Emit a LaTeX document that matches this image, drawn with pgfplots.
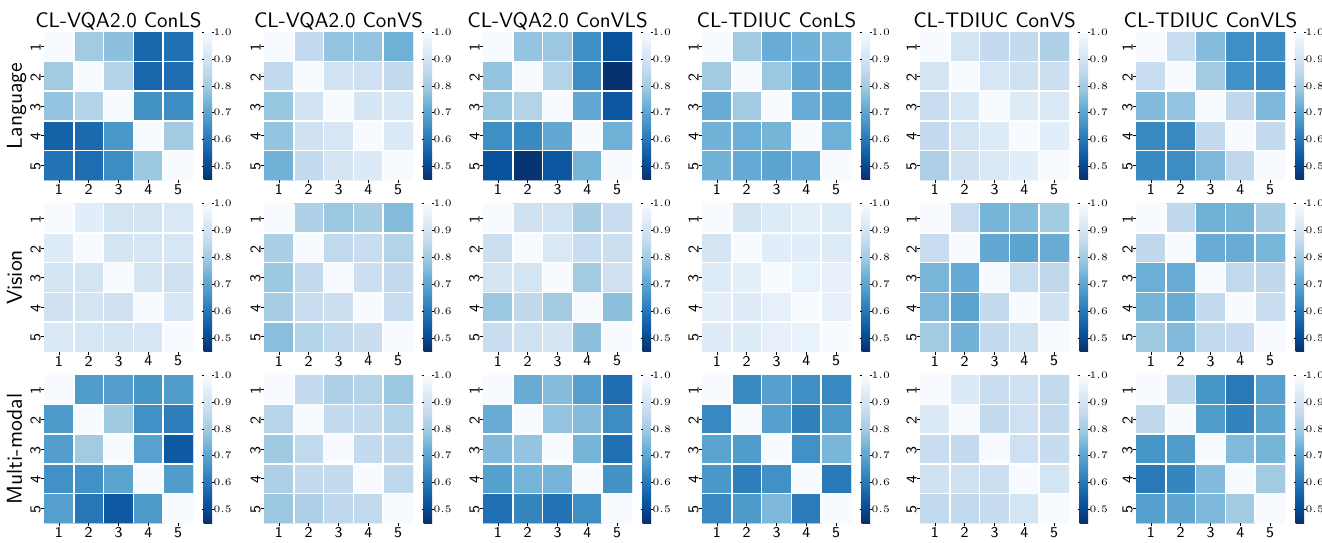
\documentclass[border=0pt]{standalone}
\usepackage{pgfplots}
\pgfplotsset{compat=1.18}
\pgfplotsset{
  every axis title shift=0pt,
  colormap={sbblues}{rgb255=(8,48,107) rgb255=(8,81,156) rgb255=(33,113,181) rgb255=(66,146,198) rgb255=(107,174,214) rgb255=(158,202,225) rgb255=(198,219,239) rgb255=(222,235,247) rgb255=(247,251,255)},
  hmstyle/.style={
    scale only axis, width=74.5pt, height=74pt, anchor=north west,
    xmin=0.5, xmax=5.5, ymin=0.5, ymax=5.5, y dir=reverse, enlargelimits=false,
    xtick={1,2,3,4,5}, ytick={1,2,3,4,5},
    xticklabels={1,2,3,4,5}, yticklabels={1,2,3,4,5},
    tick pos=left, tick align=outside, major tick length=1.5pt,
    tick style={black, line width=0.4pt},
    minor xtick={1.5,2.5,3.5,4.5}, minor ytick={1.5,2.5,3.5,4.5}, minor tick length=0pt,
    xminorgrids, yminorgrids, minor grid style={white, line width=0.75pt},
    axis on top, axis line style={draw=none},
    colormap name=sbblues, point meta min=0.45, point meta max=1,
    colorbar,
    colorbar shift/.style={xshift=0pt},
    colorbar style={
      at={(parent axis.north east)}, anchor=north west, xshift=5.3pt,
      width=4.2pt,
      ytick={0.5,0.6,0.7,0.8,0.9,1.0},
      yticklabel style={font=\fontsize{3.3}{4}\selectfont, inner sep=0.3pt, xshift=-0.7pt,
        /pgf/number format/.cd, fixed, fixed zerofill, precision=1},
      major tick length=1pt,
      tick style={black, line width=0.3pt},
      tick align=outside,
      axis line style={draw=none},
    },
    xticklabel style={font=\sffamily\fontsize{7.5}{8}\selectfont, inner sep=0pt, anchor=north, yshift=-0.6pt},
    yticklabel style={font=\sffamily\fontsize{7.5}{8}\selectfont, rotate=90, inner sep=0pt, anchor=south, xshift=-0.6pt},
    title style={font=\sffamily\fontsize{10.5}{12}\selectfont, at={(0.5,1)}, anchor=base, yshift=2.5pt, inner sep=0pt},
    ylabel style={font=\sffamily\fontsize{10.8}{12}\selectfont, at={(axis description cs:-0.148,0.5)}, anchor=base, inner sep=0pt},
  }
}
\newcommand{\hm}[4]{%
\begin{axis}[hmstyle, at={(#1pt,#2pt)}, #3]
\addplot[matrix plot*, mesh/cols=5, point meta=explicit] coordinates {#4};
\end{axis}}
\begin{document}
\begin{tikzpicture}
\useasboundingbox (0,0) rectangle (661pt,-271pt);
% ---------------- Row 1: Language ----------------
\hm{22}{-16}{title={CL-VQA2.0 ConLS}, ylabel={Language}}{
(1,1)[1.00] (2,1)[0.80] (3,1)[0.77] (4,1)[0.565] (5,1)[0.585]
(1,2)[0.80] (2,2)[1.00] (3,2)[0.83] (4,2)[0.565] (5,2)[0.58]
(1,3)[0.78] (2,3)[0.83] (3,3)[1.00] (4,3)[0.66] (5,3)[0.645]
(1,4)[0.555] (2,4)[0.57] (3,4)[0.67] (4,4)[1.00] (5,4)[0.80]
(1,5)[0.59] (2,5)[0.58] (3,5)[0.645] (4,5)[0.79] (5,5)[1.00]}
\hm{132}{-16}{title={CL-VQA2.0 ConVS}}{
(1,1)[1.00] (2,1)[0.86] (3,1)[0.78] (4,1)[0.78] (5,1)[0.73]
(1,2)[0.86] (2,2)[1.00] (3,2)[0.895] (4,2)[0.885] (5,2)[0.855]
(1,3)[0.785] (2,3)[0.895] (3,3)[1.00] (4,3)[0.905] (5,3)[0.91]
(1,4)[0.78] (2,4)[0.89] (3,4)[0.91] (4,4)[1.00] (5,4)[0.925]
(1,5)[0.735] (2,5)[0.86] (3,5)[0.905] (4,5)[0.925] (5,5)[1.00]}
\hm{241.5}{-16}{title={CL-VQA2.0 ConVLS}}{
(1,1)[1.00] (2,1)[0.78] (3,1)[0.79] (4,1)[0.65] (5,1)[0.52]
(1,2)[0.78] (2,2)[1.00] (3,2)[0.83] (4,2)[0.645] (5,2)[0.455]
(1,3)[0.79] (2,3)[0.83] (3,3)[1.00] (4,3)[0.71] (5,3)[0.53]
(1,4)[0.65] (2,4)[0.64] (3,4)[0.71] (4,4)[1.00] (5,4)[0.73]
(1,5)[0.52] (2,5)[0.46] (3,5)[0.53] (4,5)[0.74] (5,5)[1.00]}
\hm{351}{-16}{title={CL-TDIUC ConLS}}{
(1,1)[1.00] (2,1)[0.80] (3,1)[0.72] (4,1)[0.735] (5,1)[0.745]
(1,2)[0.80] (2,2)[1.00] (3,2)[0.79] (4,2)[0.71] (5,2)[0.70]
(1,3)[0.72] (2,3)[0.80] (3,3)[1.00] (4,3)[0.72] (5,3)[0.70]
(1,4)[0.735] (2,4)[0.725] (3,4)[0.74] (4,4)[1.00] (5,4)[0.73]
(1,5)[0.735] (2,5)[0.715] (3,5)[0.70] (4,5)[0.715] (5,5)[1.00]}
\hm{460}{-16}{title={CL-TDIUC ConVS}}{
(1,1)[1.00] (2,1)[0.90] (3,1)[0.86] (4,1)[0.86] (5,1)[0.82]
(1,2)[0.90] (2,2)[1.00] (3,2)[0.91] (4,2)[0.89] (5,2)[0.88]
(1,3)[0.87] (2,3)[0.91] (3,3)[1.00] (4,3)[0.93] (5,3)[0.92]
(1,4)[0.86] (2,4)[0.90] (3,4)[0.93] (4,4)[1.00] (5,4)[0.94]
(1,5)[0.82] (2,5)[0.89] (3,5)[0.92] (4,5)[0.94] (5,5)[1.00]}
\hm{568}{-16}{title={CL-TDIUC ConVLS}}{
(1,1)[1.00] (2,1)[0.87] (3,1)[0.76] (4,1)[0.65] (5,1)[0.645]
(1,2)[0.87] (2,2)[1.00] (3,2)[0.80] (4,2)[0.655] (5,2)[0.635]
(1,3)[0.755] (2,3)[0.78] (3,3)[1.00] (4,3)[0.85] (5,3)[0.75]
(1,4)[0.64] (2,4)[0.64] (3,4)[0.86] (4,4)[1.00] (5,4)[0.86]
(1,5)[0.64] (2,5)[0.645] (3,5)[0.75] (4,5)[0.85] (5,5)[1.00]}
% ---------------- Row 2: Vision ----------------
\hm{22}{-101.75}{ylabel={Vision}}{
(1,1)[1.00] (2,1)[0.94] (3,1)[0.90] (4,1)[0.90] (5,1)[0.92]
(1,2)[0.93] (2,2)[1.00] (3,2)[0.90] (4,2)[0.91] (5,2)[0.91]
(1,3)[0.90] (2,3)[0.90] (3,3)[1.00] (4,3)[0.90] (5,3)[0.89]
(1,4)[0.89] (2,4)[0.90] (3,4)[0.89] (4,4)[1.00] (5,4)[0.91]
(1,5)[0.92] (2,5)[0.91] (3,5)[0.90] (4,5)[0.91] (5,5)[1.00]}
\hm{132}{-101.75}{}{
(1,1)[1.00] (2,1)[0.82] (3,1)[0.79] (4,1)[0.81] (5,1)[0.76]
(1,2)[0.815] (2,2)[1.00] (3,2)[0.855] (4,2)[0.87] (5,2)[0.83]
(1,3)[0.79] (2,3)[0.855] (3,3)[1.00] (4,3)[0.88] (5,3)[0.86]
(1,4)[0.81] (2,4)[0.87] (3,4)[0.88] (4,4)[1.00] (5,4)[0.87]
(1,5)[0.765] (2,5)[0.83] (3,5)[0.855] (4,5)[0.875] (5,5)[1.00]}
\hm{241.5}{-101.75}{}{
(1,1)[1.00] (2,1)[0.89] (3,1)[0.895] (4,1)[0.81] (5,1)[0.87]
(1,2)[0.88] (2,2)[1.00] (3,2)[0.92] (4,2)[0.87] (5,2)[0.88]
(1,3)[0.90] (2,3)[0.90] (3,3)[1.00] (4,3)[0.80] (5,3)[0.89]
(1,4)[0.79] (2,4)[0.85] (3,4)[0.80] (4,4)[1.00] (5,4)[0.77]
(1,5)[0.87] (2,5)[0.89] (3,5)[0.905] (4,5)[0.77] (5,5)[1.00]}
\hm{351}{-101.75}{}{
(1,1)[1.00] (2,1)[0.90] (3,1)[0.93] (4,1)[0.945] (5,1)[0.93]
(1,2)[0.90] (2,2)[1.00] (3,2)[0.94] (4,2)[0.94] (5,2)[0.93]
(1,3)[0.93] (2,3)[0.95] (3,3)[1.00] (4,3)[0.96] (5,3)[0.955]
(1,4)[0.945] (2,4)[0.935] (3,4)[0.955] (4,4)[1.00] (5,4)[0.955]
(1,5)[0.935] (2,5)[0.93] (3,5)[0.955] (4,5)[0.96] (5,5)[1.00]}
\hm{460}{-101.75}{}{
(1,1)[1.00] (2,1)[0.87] (3,1)[0.74] (4,1)[0.76] (5,1)[0.80]
(1,2)[0.87] (2,2)[1.00] (3,2)[0.71] (4,2)[0.70] (5,2)[0.72]
(1,3)[0.745] (2,3)[0.715] (3,3)[1.00] (4,3)[0.87] (5,3)[0.85]
(1,4)[0.75] (2,4)[0.70] (3,4)[0.86] (4,4)[1.00] (5,4)[0.89]
(1,5)[0.80] (2,5)[0.735] (3,5)[0.86] (4,5)[0.89] (5,5)[1.00]}
\hm{568}{-101.75}{}{
(1,1)[1.00] (2,1)[0.85] (3,1)[0.73] (4,1)[0.74] (5,1)[0.81]
(1,2)[0.85] (2,2)[1.00] (3,2)[0.72] (4,2)[0.72] (5,2)[0.745]
(1,3)[0.725] (2,3)[0.72] (3,3)[1.00] (4,3)[0.855] (5,3)[0.85]
(1,4)[0.74] (2,4)[0.72] (3,4)[0.86] (4,4)[1.00] (5,4)[0.87]
(1,5)[0.795] (2,5)[0.755] (3,5)[0.855] (4,5)[0.865] (5,5)[1.00]}
% ---------------- Row 3: Multi-modal ----------------
\hm{22}{-187.5}{ylabel={Multi-modal}}{
(1,1)[1.00] (2,1)[0.68] (3,1)[0.685] (4,1)[0.665] (5,1)[0.68]
(1,2)[0.675] (2,2)[1.00] (3,2)[0.795] (4,2)[0.655] (5,2)[0.615]
(1,3)[0.685] (2,3)[0.80] (3,3)[1.00] (4,3)[0.695] (5,3)[0.535]
(1,4)[0.655] (2,4)[0.655] (3,4)[0.70] (4,4)[1.00] (5,4)[0.68]
(1,5)[0.69] (2,5)[0.60] (3,5)[0.535] (4,5)[0.675] (5,5)[1.00]}
\hm{132}{-187.5}{}{
(1,1)[1.00] (2,1)[0.86] (3,1)[0.82] (4,1)[0.83] (5,1)[0.79]
(1,2)[0.84] (2,2)[1.00] (3,2)[0.86] (4,2)[0.86] (5,2)[0.83]
(1,3)[0.795] (2,3)[0.855] (3,3)[1.00] (4,3)[0.86] (5,3)[0.85]
(1,4)[0.82] (2,4)[0.86] (3,4)[0.86] (4,4)[1.00] (5,4)[0.85]
(1,5)[0.79] (2,5)[0.82] (3,5)[0.85] (4,5)[0.855] (5,5)[1.00]}
\hm{241.5}{-187.5}{}{
(1,1)[1.00] (2,1)[0.72] (3,1)[0.76] (4,1)[0.69] (5,1)[0.58]
(1,2)[0.72] (2,2)[1.00] (3,2)[0.78] (4,2)[0.76] (5,2)[0.645]
(1,3)[0.755] (2,3)[0.78] (3,3)[1.00] (4,3)[0.74] (5,3)[0.585]
(1,4)[0.69] (2,4)[0.74] (3,4)[0.74] (4,4)[1.00] (5,4)[0.66]
(1,5)[0.585] (2,5)[0.63] (3,5)[0.59] (4,5)[0.65] (5,5)[1.00]}
\hm{351}{-187.5}{}{
(1,1)[1.00] (2,1)[0.64] (3,1)[0.69] (4,1)[0.65] (5,1)[0.635]
(1,2)[0.635] (2,2)[1.00] (3,2)[0.69] (4,2)[0.62] (5,2)[0.675]
(1,3)[0.70] (2,3)[0.68] (3,3)[1.00] (4,3)[0.655] (5,3)[0.745]
(1,4)[0.67] (2,4)[0.615] (3,4)[0.655] (4,4)[1.00] (5,4)[0.605]
(1,5)[0.635] (2,5)[0.675] (3,5)[0.75] (4,5)[0.61] (5,5)[1.00]}
\hm{460}{-187.5}{}{
(1,1)[1.00] (2,1)[0.925] (3,1)[0.87] (4,1)[0.885] (5,1)[0.855]
(1,2)[0.925] (2,2)[1.00] (3,2)[0.86] (4,2)[0.885] (5,2)[0.86]
(1,3)[0.87] (2,3)[0.86] (3,3)[1.00] (4,3)[0.885] (5,3)[0.865]
(1,4)[0.89] (2,4)[0.89] (3,4)[0.88] (4,4)[1.00] (5,4)[0.90]
(1,5)[0.855] (2,5)[0.855] (3,5)[0.865] (4,5)[0.90] (5,5)[1.00]}
\hm{568}{-187.5}{}{
(1,1)[1.00] (2,1)[0.85] (3,1)[0.665] (4,1)[0.605] (5,1)[0.69]
(1,2)[0.85] (2,2)[1.00] (3,2)[0.68] (4,2)[0.625] (5,2)[0.70]
(1,3)[0.665] (2,3)[0.68] (3,3)[1.00] (4,3)[0.755] (5,3)[0.74]
(1,4)[0.605] (2,4)[0.63] (3,4)[0.755] (4,4)[1.00] (5,4)[0.80]
(1,5)[0.69] (2,5)[0.705] (3,5)[0.75] (4,5)[0.80] (5,5)[1.00]}
\end{tikzpicture}
\end{document}
